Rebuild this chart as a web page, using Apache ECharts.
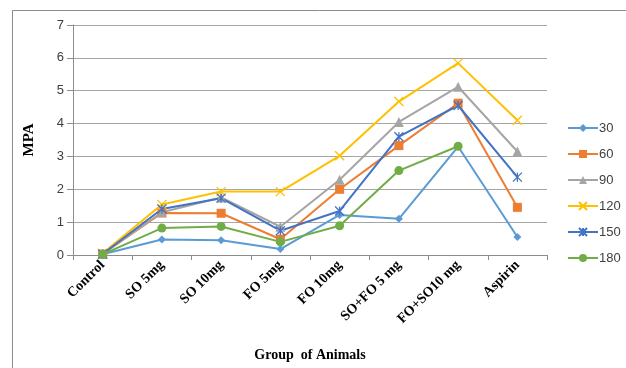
<!DOCTYPE html>
<html>
<head>
<meta charset="utf-8">
<script src="https://cdn.jsdelivr.net/npm/echarts@6/dist/echarts.min.js"></script>
<style>
html,body{margin:0;padding:0;background:#fff;}
#chart{width:626px;height:368px;}
</style>
</head>
<body>
<div id="chart"></div>
<script>
// Groups of animals on the x axis
const groups = ['Control', 'SO 5mg', 'SO 10mg', 'FO 5mg', 'FO 10mg', 'SO+FO 5 mg', 'FO+SO10 mg', 'Aspirin'];
const yTicks = [0, 1, 2, 3, 4, 5, 6, 7];

// MPA readings per time point (minutes)
const mpa30  = [0.02, 0.47, 0.45, 0.18, 1.22, 1.10, 3.30, 0.55];
const mpa60  = [0.03, 1.28, 1.27, 0.48, 2.00, 3.33, 4.62, 1.45];
const mpa90  = [0.03, 1.30, 1.75, 0.86, 2.29, 4.05, 5.12, 3.15];
const mpa120 = [0.05, 1.54, 1.93, 1.93, 3.02, 4.67, 5.84, 4.10];
const mpa150 = [0.03, 1.40, 1.73, 0.74, 1.34, 3.60, 4.55, 2.37];
const mpa180 = [0.02, 0.82, 0.87, 0.40, 0.89, 2.57, 3.31, null];

const crossPath = 'path://M0,0L10,10M10,0L0,10';
const starPath = 'path://M0,0L10,10M10,0L0,10M5,0L5,10';

function lineSeries(name, data, color, symbol, size, stroked) {
  return {
    name: name,
    type: 'line',
    data: data,
    symbol: symbol,
    symbolSize: size,
    showAllSymbol: true,
    connectNulls: false,
    lineStyle: { color: color, width: 2 },
    itemStyle: stroked
      ? { color: 'rgba(0,0,0,0)', borderColor: color, borderWidth: 1.3 }
      : { color: color, borderColor: color, borderWidth: 0 },
    emphasis: { disabled: true }
  };
}

const chart = echarts.init(document.getElementById('chart'), null, { renderer: 'canvas' });
chart.setOption({
  animation: false,
  backgroundColor: '#ffffff',
  graphic: [{
    type: 'rect',
    shape: { x: 12.5, y: 10.5, width: 700, height: 500 },
    style: { fill: 'none', stroke: '#8c8c8c', lineWidth: 1 },
    silent: true
  }],
  grid: { left: 73, right: 79, top: 25, bottom: 113 },
  legend: {
    orient: 'vertical',
    left: 562,
    top: 116,
    itemWidth: 30,
    itemHeight: 10,
    itemGap: 12,
    textStyle: { color: '#404040', fontSize: 13, lineHeight: 14, fontFamily: 'Liberation Sans', padding: [0, 0, 0, -4] },
    data: ['30', '60', '90', '120', '150', '180']
  },
  xAxis: {
    type: 'category',
    data: groups,
    boundaryGap: true,
    name: 'Group  of Animals',
    nameLocation: 'middle',
    nameGap: 93,
    nameTextStyle: { fontFamily: 'Liberation Serif', fontWeight: 'bold', fontSize: 14, color: '#000' },
    axisLine: { lineStyle: { color: '#8c8c8c', width: 1 } },
    axisTick: { show: true, alignWithLabel: false, length: 5, lineStyle: { color: '#8c8c8c' } },
    axisLabel: {
      rotate: 45,
      interval: 0,
      margin: 8,
      fontFamily: 'Liberation Serif',
      fontWeight: 'bold',
      fontSize: 14,
      color: '#000'
    },
    splitLine: { show: false }
  },
  yAxis: {
    type: 'value',
    min: yTicks[0],
    max: yTicks[yTicks.length - 1],
    interval: 1,
    name: 'MPA',
    nameLocation: 'middle',
    nameGap: 36,
    nameRotate: 90,
    nameTextStyle: { fontFamily: 'Liberation Serif', fontWeight: 'bold', fontSize: 15, color: '#000' },
    axisLine: { show: true, lineStyle: { color: '#8c8c8c', width: 1 } },
    axisTick: { show: true, length: 6, lineStyle: { color: '#8c8c8c' } },
    axisLabel: { fontFamily: 'Liberation Sans', fontSize: 13, color: '#404040', margin: 9 },
    splitLine: { show: true, lineStyle: { color: '#a6a6a6', width: 1 } }
  },
  series: [
    lineSeries('30', mpa30, '#5B9BD5', 'diamond', 8, false),
    lineSeries('60', mpa60, '#ED7D31', 'rect', 9, false),
    lineSeries('90', mpa90, '#A5A5A5', 'triangle', 10, false),
    lineSeries('120', mpa120, '#FFC000', crossPath, 9, true),
    lineSeries('150', mpa150, '#4472C4', starPath, 9, true),
    lineSeries('180', mpa180, '#70AD47', 'circle', 9, false)
  ]
});
</script>
</body>
</html>
